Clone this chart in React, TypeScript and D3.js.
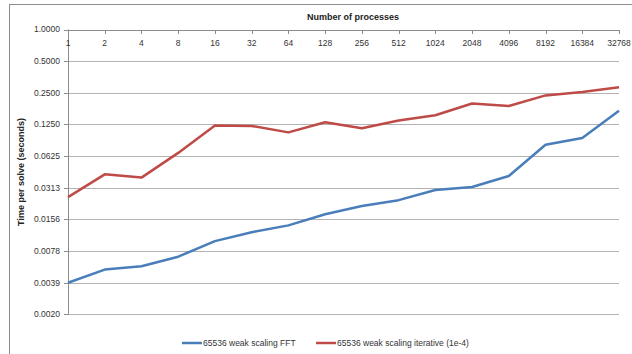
import React from "react";
import * as d3 from "d3";

// Process counts (x axis, log2) and time per solve in seconds
const processes = [1, 2, 4, 8, 16, 32, 64, 128, 256, 512, 1024, 2048, 4096, 8192, 16384, 32768];
const fftTimes = [0.0039, 0.0052, 0.0056, 0.0069, 0.0097, 0.0118, 0.0137, 0.0175, 0.0209, 0.0238, 0.0297, 0.0317, 0.0404, 0.080, 0.093, 0.169];
const iterTimes = [0.0254, 0.0419, 0.039, 0.067, 0.122, 0.121, 0.105, 0.131, 0.115, 0.136, 0.153, 0.198, 0.187, 0.236, 0.254, 0.282];
const yTicks = [1.0, 0.5, 0.25, 0.125, 0.0625, 0.03125, 0.015625, 0.0078125, 0.00390625, 0.001953125];
const seriesNames = ["65536 weak scaling FFT", "65536 weak scaling iterative (1e-4)"];
const seriesColors = ["#4a7ebb", "#be4b48"];

const W = 632;
const H = 354;
const FONT = "'Liberation Sans', Arial, sans-serif";

export default function App() {
  const x = d3.scaleLog().base(2).domain([1, 32768]).range([68, 619]);
  const y = d3.scaleLog().base(2).domain([0.001953125, 1]).range([314.3, 29.5]);

  const line = d3
    .line<number>()
    .x((_, i) => x(processes[i]))
    .y((d) => y(d));

  const series = [fftTimes, iterTimes];

  return (
    <svg
      width={W}
      height={H}
      style={{ position: "absolute", left: 0, top: 0, background: "#fff" }}
      fontFamily={FONT}
    >
      {/* chart frame */}
      <rect x={9.5} y={4.5} width={W + 20} height={H + 20} fill="#fff" stroke="#8c8c8c" strokeWidth={1} />

      {/* horizontal gridlines */}
      {yTicks.map((t) => (
        <line key={t} x1={68} x2={619} y1={Math.round(y(t)) + 0.5} y2={Math.round(y(t)) + 0.5} stroke="#b3b3b3" strokeWidth={1} />
      ))}

      {/* y axis */}
      <line x1={68.5} x2={68.5} y1={29.5} y2={Math.round(y(0.001953125)) + 0.5} stroke="#8c8c8c" />
      {yTicks.map((t) => (
        <g key={"yt" + t}>
          <line x1={64} x2={68} y1={Math.round(y(t)) + 0.5} y2={Math.round(y(t)) + 0.5} stroke="#8c8c8c" />
          <text x={60} y={y(t)} dy="0.35em" textAnchor="end" fontSize={8.5} fill="#333">
            {t.toFixed(4)}
          </text>
        </g>
      ))}

      {/* x axis on top */}
      <line x1={68} x2={619.5} y1={Math.round(y(1)) + 0.5} y2={Math.round(y(1)) + 0.5} stroke="#8c8c8c" />
      {processes.map((p) => (
        <g key={"xt" + p}>
          <line x1={Math.round(x(p)) + 0.5} x2={Math.round(x(p)) + 0.5} y1={30} y2={34} stroke="#8c8c8c" />
          <text x={x(p)} y={43} dy="0.35em" textAnchor="middle" fontSize={8.5} fill="#333">
            {p}
          </text>
        </g>
      ))}

      {/* axis titles */}
      <text x={353} y={17} dy="0.35em" textAnchor="middle" fontSize={9} fontWeight="bold" fill="#222">
        Number of processes
      </text>
      <text
        transform={`translate(21,172) rotate(-90)`}
        textAnchor="middle"
        dy="0.35em"
        fontSize={9}
        fontWeight="bold"
        fill="#222"
      >
        Time per solve (seconds)
      </text>

      {/* series lines */}
      {series.map((s, i) => (
        <path key={i} d={line(s) || ""} fill="none" stroke={seriesColors[i]} strokeWidth={2.5} strokeLinejoin="round" />
      ))}

      {/* legend */}
      {seriesNames.map((name, i) => {
        const lx = i === 0 ? 182 : 316;
        return (
          <g key={name}>
            <line x1={lx} x2={lx + 20} y1={343} y2={343} stroke={seriesColors[i]} strokeWidth={2.5} />
            <text x={lx + 21} y={343} dy="0.35em" fontSize={8.5} fill="#333">
              {name}
            </text>
          </g>
        );
      })}
    </svg>
  );
}
